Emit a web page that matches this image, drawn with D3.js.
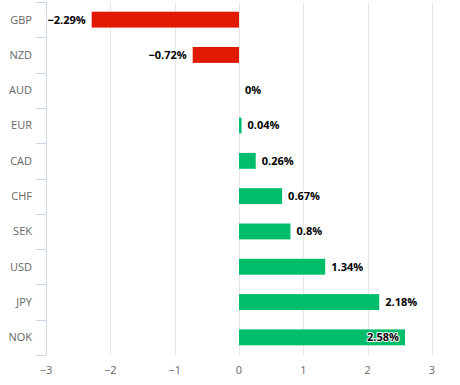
<!DOCTYPE html>
<html>
<head>
<meta charset="utf-8">
<script src="https://cdn.jsdelivr.net/npm/d3@7"></script>
<style>
    body { margin: 0; background: #ffffff; }
    svg { display: block; font-family: "Open Sans", "DejaVu Sans", sans-serif; }
</style>
</head>
<body>
<div id="chart"></div>
<script>
"use strict";

const currencies = ["GBP", "NZD", "AUD", "EUR", "CAD", "CHF", "SEK", "USD", "JPY", "NOK"];
const changes = [-2.29, -0.72, 0, 0.04, 0.26, 0.67, 0.8, 1.34, 2.18, 2.58];
const changeLabels = ["\u22122.29%", "\u22120.72%", "0%", "0.04%", "0.26%", "0.67%", "0.8%", "1.34%", "2.18%", "2.58%"];
const xTicks = [-3, -2, -1, 0, 1, 2, 3];

const width = 460, height = 385;
const margin = {top: 2, right: 28, bottom: 30, left: 46};
const plotW = width - margin.left - margin.right,
    plotH = height - margin.top - margin.bottom;

const svg = d3.select("#chart")
    .append("svg")
    .attr("width", width)
    .attr("height", height);

const g = svg.append("g")
    .attr("transform", "translate(" + margin.left + "," + margin.top + ")");

const x = d3.scaleLinear()
    .domain([-3, 3])
    .range([0, plotW]);

const y = d3.scaleBand()
    .domain(currencies)
    .range([0, plotH])
    .paddingInner(0.55)
    .paddingOuter(0.275);

// grid lines
g.selectAll(".grid")
    .data(xTicks)
    .enter().append("line")
    .attr("x1", d => Math.round(x(d)) + 0.5)
    .attr("x2", d => Math.round(x(d)) + 0.5)
    .attr("y1", 0)
    .attr("y2", plotH)
    .attr("stroke", "#e6e6e6")
    .attr("stroke-width", 1);

// x axis labels
g.selectAll(".xlabel")
    .data(xTicks)
    .enter().append("text")
    .attr("x", d => x(d))
    .attr("y", plotH + 19)
    .attr("text-anchor", "middle")
    .attr("font-size", 11)
    .attr("fill", "#666666")
    .text(d => d < 0 ? "\u2212" + Math.abs(d) : d);

// y axis line + ticks between categories
g.append("line")
    .attr("x1", 0.5).attr("x2", 0.5)
    .attr("y1", 0).attr("y2", plotH)
    .attr("stroke", "#ccd6eb");

g.selectAll(".ytick")
    .data(d3.range(currencies.length + 1))
    .enter().append("line")
    .attr("x1", -10).attr("x2", 0)
    .attr("y1", i => Math.round(i * plotH / currencies.length) + 0.5)
    .attr("y2", i => Math.round(i * plotH / currencies.length) + 0.5)
    .attr("stroke", "#ccd6eb");

g.selectAll(".ylabel")
    .data(currencies)
    .enter().append("text")
    .attr("x", -14)
    .attr("y", d => y(d) + y.bandwidth() / 2)
    .attr("dy", "0.35em")
    .attr("text-anchor", "end")
    .attr("font-size", 11)
    .attr("fill", "#666666")
    .text(d => d);

// bars
g.selectAll(".bar")
    .data(changes)
    .enter().append("rect")
    .attr("x", d => x(Math.min(0, d)))
    .attr("width", d => Math.abs(x(d) - x(0)))
    .attr("y", (d, i) => y(currencies[i]))
    .attr("height", y.bandwidth())
    .attr("fill", d => d < 0 ? "#e01a00" : "#00bd6b");

// data labels, moved inside the bar when they would leave the plot area
const labels = g.selectAll(".dlabel")
    .data(changes)
    .enter().append("text")
    .attr("font-size", 11)
    .attr("font-weight", "bold")
    .attr("fill", "#000000")
    .attr("stroke", "#ffffff")
    .attr("stroke-width", 2)
    .attr("stroke-linejoin", "round")
    .attr("paint-order", "stroke")
    .attr("y", (d, i) => y(currencies[i]) + y.bandwidth() / 2)
    .attr("dy", "0.35em")
    .text((d, i) => changeLabels[i]);

labels.each(function(d) {
    const el = d3.select(this);
    const w = this.getComputedTextLength();
    if (d < 0) {
        el.attr("x", x(d) - 6).attr("text-anchor", "end");
    } else if (x(d) + 6 + w > plotW) {
        el.attr("x", x(d) - 6).attr("text-anchor", "end");
    } else {
        el.attr("x", x(d) + 6).attr("text-anchor", "start");
    }
});
</script>
</body>
</html>
